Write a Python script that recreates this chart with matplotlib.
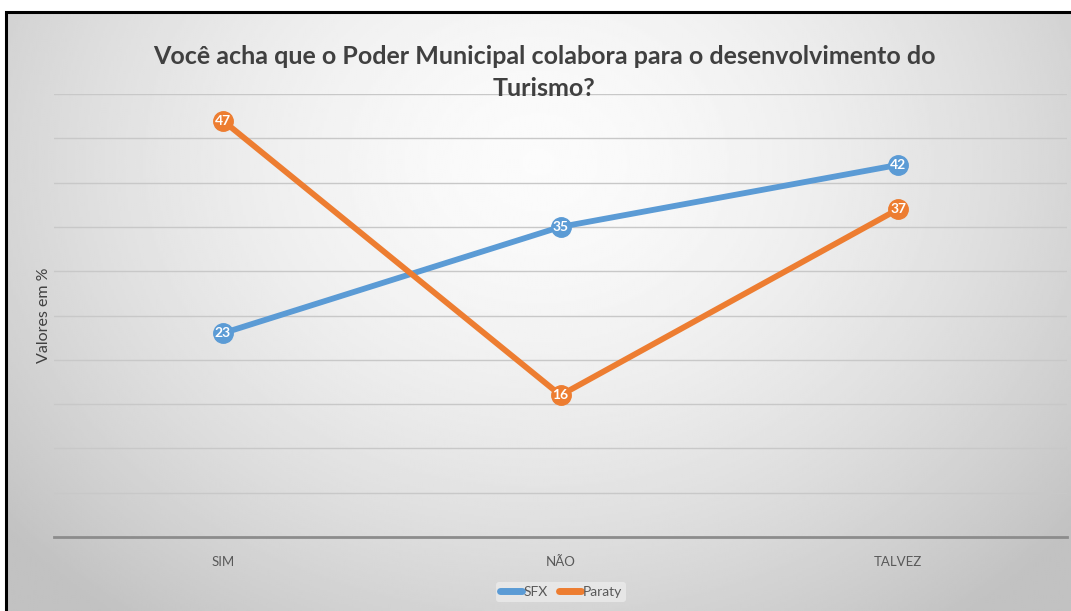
import numpy as np
import matplotlib.pyplot as plt
from matplotlib.patches import Rectangle

# Respostas por localidade (%)
categorias = ['SIM', 'NÃO', 'TALVEZ']
sfx = [23, 35, 42]
paraty = [47, 16, 37]

titulo = 'Você acha que o Poder Municipal colabora para o desenvolvimento do\nTurismo?'
cor_sfx = '#5B9BD5'
cor_paraty = '#ED7D31'

plt.rcParams['font.family'] = ['Lato', 'DejaVu Sans']

fig = plt.figure(figsize=(10.71, 6.11), dpi=100)
fig.patch.set_facecolor('white')

# Fundo com degradê radial
bg = fig.add_axes([6 / 1071, 0, 1 - 6 / 1071, 1 - 12 / 611])
yy, xx = np.mgrid[0:1:300j, 0:1:500j]
d = np.sqrt(((xx - 0.5) / 0.75) ** 2 + ((yy - 0.25) / 1.1) ** 2)
shade = np.clip(0.985 - 0.28 * d ** 1.6, 0.76, 1)
bg.imshow(shade, cmap='gray', vmin=0, vmax=1, aspect='auto',
          extent=[0, 1, 1, 0], interpolation='bilinear')
bg.set_xlim(0, 1)
bg.set_ylim(1, 0)
bg.axis('off')
# moldura só visível em cima e à esquerda
bg.add_patch(Rectangle((0, -0.1), 1.1, 1.1, transform=bg.transAxes, fill=False,
                       edgecolor='black', linewidth=2.2, clip_on=False))

ax = fig.add_axes([54 / 1071, 1 - 537 / 611, (1067 - 54) / 1071, (537 - 94) / 611])
ax.patch.set_alpha(0)

x = np.arange(len(categorias)) + 0.5
ax.plot(x, sfx, color=cor_sfx, linewidth=4.2, solid_capstyle='round',
        marker='o', markersize=14, label='SFX', zorder=3)
ax.plot(x, paraty, color=cor_paraty, linewidth=4.2, solid_capstyle='round',
        marker='o', markersize=14, label='Paraty', zorder=3)

for xi, v in zip(x, sfx):
    ax.text(xi, v, str(v), ha='center', va='center', color='white',
            fontsize=10, fontweight='bold', zorder=4)
for xi, v in zip(x, paraty):
    ax.text(xi, v, str(v), ha='center', va='center', color='white',
            fontsize=10, fontweight='bold', zorder=4)

ax.set_xlim(0, 3)
ax.set_ylim(0, 50)
ax.set_yticks(np.arange(5, 51, 5))
ax.yaxis.grid(True, color='#c8c8c8', linewidth=1)
ax.set_axisbelow(True)
ax.tick_params(axis='y', left=False, labelleft=False)
ax.set_xticks(x)
ax.set_xticklabels(categorias, color='#595959', fontsize=9.5)
ax.tick_params(axis='x', length=0, pad=14)
for s in ['top', 'right', 'left']:
    ax.spines[s].set_visible(False)
ax.spines['bottom'].set_color('#8c8c8c')
ax.spines['bottom'].set_linewidth(2)

ax.set_ylabel('Valores em %', color='#404040', fontsize=11.5, labelpad=2)

fig.text(0.508, 1 - 45 / 611, titulo, ha='center', va='top', fontsize=18,
         fontweight='bold', color='#404040', linespacing=1.5)

handles = [plt.Line2D([], [], color=cor_sfx, linewidth=5, solid_capstyle='round'),
           plt.Line2D([], [], color=cor_paraty, linewidth=5, solid_capstyle='round')]
leg = fig.legend(handles, ['SFX', 'Paraty'], loc='center', ncol=2,
                 bbox_to_anchor=(561 / 1071, 1 - 592 / 611), frameon=True,
                 fontsize=10, handlelength=1.6, handletextpad=0.1,
                 columnspacing=0.8, borderpad=0.3)
leg.get_frame().set_facecolor('#ebebeb')
leg.get_frame().set_edgecolor('none')
for t in leg.get_texts():
    t.set_color('#595959')

fig.savefig('out.png', dpi=100)
